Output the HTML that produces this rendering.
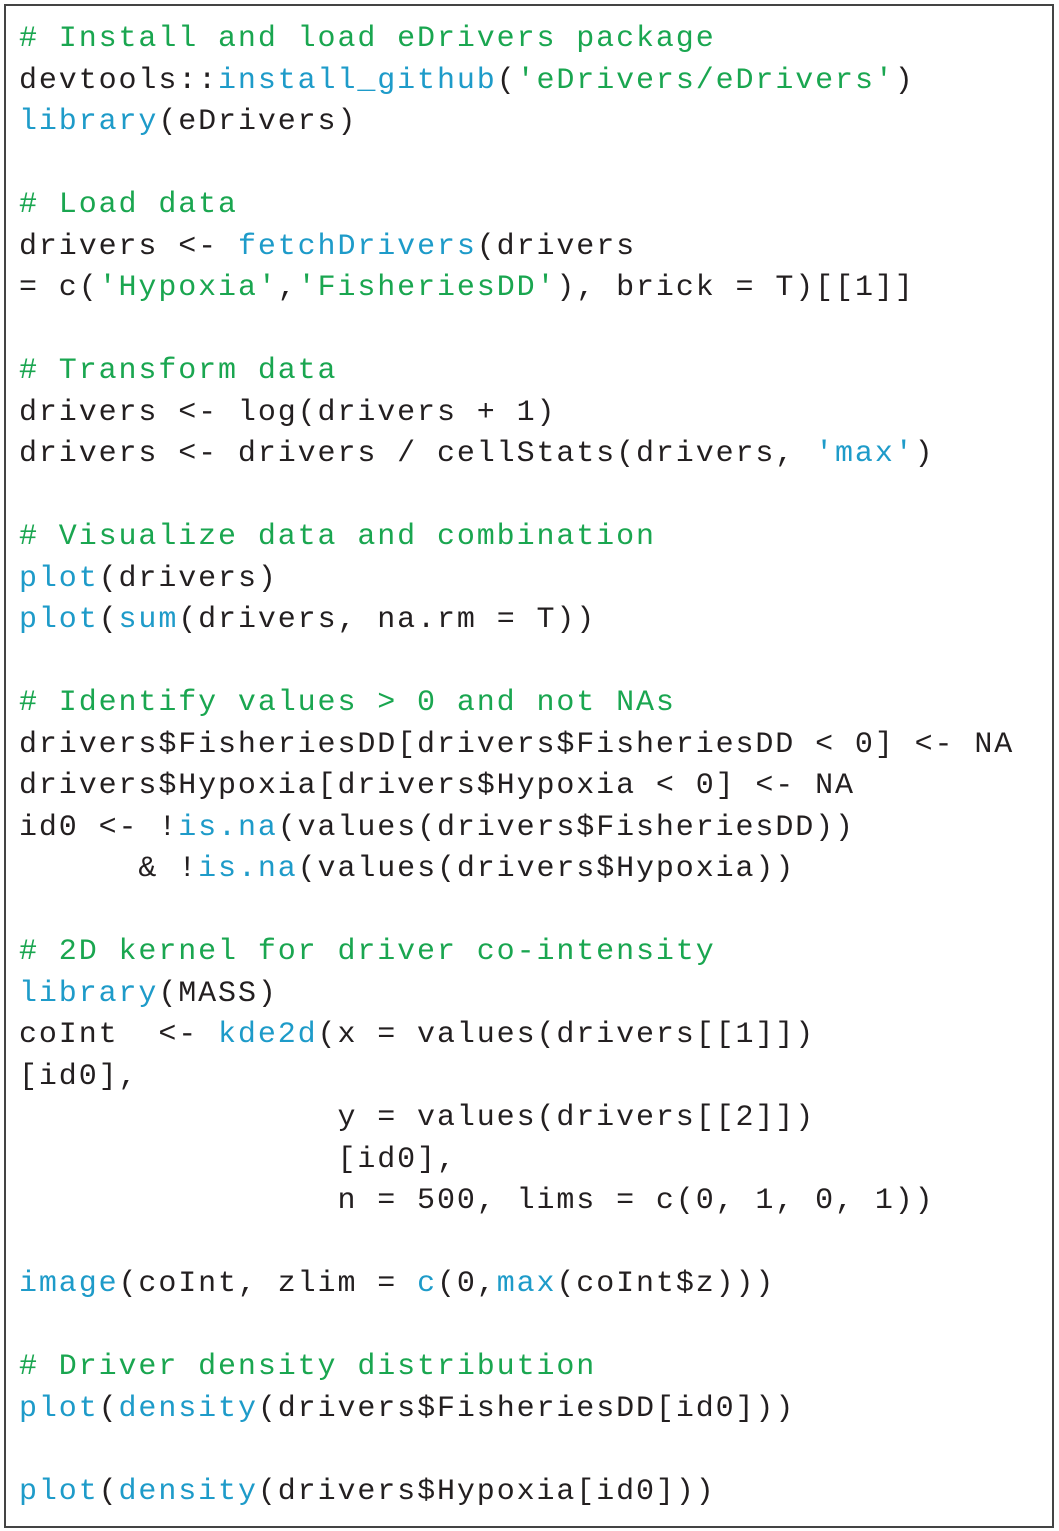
<!DOCTYPE html>
<html><head><meta charset="utf-8"><style>
html,body{margin:0;padding:0;background:#fff;}
body{width:1059px;height:1531px;position:relative;overflow:hidden;}
.box{position:absolute;left:4px;top:4px;width:1046px;height:1520px;border:2px solid #444;}
pre{position:absolute;left:19px;top:19px;margin:0;font-family:"Liberation Mono",monospace;font-size:30px;letter-spacing:1.9px;line-height:41.5px;color:#231f20;}
.g{color:#1aa650;}
.b{color:#1e9bc9;}
</style></head><body><div class="box"></div>
<pre><span class="g"># Install and load eDrivers package</span>
devtools::<span class="b">install_github</span>(<span class="g">'eDrivers/eDrivers'</span>)
<span class="b">library</span>(eDrivers)

<span class="g"># Load data</span>
drivers &lt;- <span class="b">fetchDrivers</span>(drivers
= c(<span class="g">'Hypoxia'</span>,<span class="g">'FisheriesDD'</span>), brick = T)[[1]]

<span class="g"># Transform data</span>
drivers &lt;- log(drivers + 1)
drivers &lt;- drivers / cellStats(drivers, <span class="b">'max'</span>)

<span class="g"># Visualize data and combination</span>
<span class="b">plot</span>(drivers)
<span class="b">plot</span>(<span class="b">sum</span>(drivers, na.rm = T))

<span class="g"># Identify values &gt; 0 and not NAs</span>
drivers$FisheriesDD[drivers$FisheriesDD &lt; 0] &lt;- NA
drivers$Hypoxia[drivers$Hypoxia &lt; 0] &lt;- NA
id0 &lt;- !<span class="b">is.na</span>(values(drivers$FisheriesDD))
      &amp; !<span class="b">is.na</span>(values(drivers$Hypoxia))

<span class="g"># 2D kernel for driver co-intensity</span>
<span class="b">library</span>(MASS)
coInt  &lt;- <span class="b">kde2d</span>(x = values(drivers[[1]])
[id0],
                y = values(drivers[[2]])
                [id0],
                n = 500, lims = c(0, 1, 0, 1))

<span class="b">image</span>(coInt, zlim = <span class="b">c</span>(0,<span class="b">max</span>(coInt$z)))

<span class="g"># Driver density distribution</span>
<span class="b">plot</span>(<span class="b">density</span>(drivers$FisheriesDD[id0]))

<span class="b">plot</span>(<span class="b">density</span>(drivers$Hypoxia[id0]))</pre>
</body></html>
